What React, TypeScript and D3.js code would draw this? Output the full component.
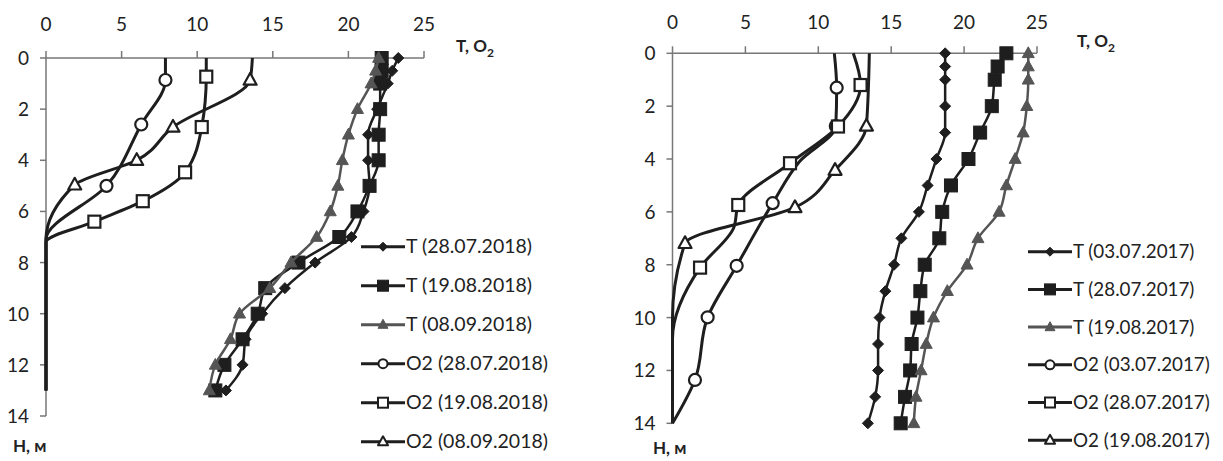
import React from 'react';
import * as d3 from 'd3';

const xTicks = [0, 5, 10, 15, 20, 25];
const yTicks = [0, 2, 4, 6, 8, 10, 12, 14];

// ---- 2018 (left chart) ----
const tDepths18 = [0, 0.5, 1, 2, 3, 4, 5, 6, 7, 8, 9, 10, 11, 12, 13];
const tA18 = [23.3, 22.9, 22.6, 21.9, 21.3, 21.3, 21.4, 21.0, 20.2, 17.8, 15.8, 14.3, 13.2, 13.0, 11.9];
const tB18 = [22.2, 22.2, 22.1, 22.1, 22.0, 22.0, 21.4, 20.6, 19.4, 16.7, 14.5, 14.0, 13.0, 11.8, 11.2];
const tC18 = [22.0, 21.8, 21.5, 20.6, 20.0, 19.6, 19.3, 18.8, 17.9, 16.2, 14.8, 12.8, 12.2, 11.2, 10.8];

const oAd18 = [0, 0.86, 2.6, 5.0, 7.1, 13];
const oAv18 = [7.9, 7.9, 6.3, 4.0, 0, 0];
const oAm18 = [1, 2, 3];
const oBd18 = [0, 0.73, 2.7, 4.47, 5.6, 6.4, 7.2, 13];
const oBv18 = [10.6, 10.6, 10.3, 9.2, 6.4, 3.2, 0, 0];
const oBm18 = [1, 2, 3, 4, 5];
const oCd18 = [0, 0.86, 2.7, 4.0, 4.96, 7.1, 13];
const oCv18 = [13.65, 13.5, 8.4, 6.0, 1.9, 0, 0];
const oCm18 = [1, 2, 3, 4];

const legend18 = ['T (28.07.2018)', 'T (19.08.2018)', 'T (08.09.2018)', 'O2 (28.07.2018)', 'O2 (19.08.2018)', 'O2 (08.09.2018)'];

// ---- 2017 (right chart) ----
const tDepths17 = [0, 0.5, 1, 2, 3, 4, 5, 6, 7, 8, 9, 10, 11, 12, 13, 14];
const tA17 = [18.7, 18.7, 18.7, 18.7, 18.7, 18.1, 17.5, 16.9, 15.7, 15.2, 14.6, 14.2, 14.1, 14.1, 13.9, 13.4];
const tB17 = [22.9, 22.3, 22.1, 21.9, 21.1, 20.3, 19.1, 18.5, 18.3, 17.3, 17.0, 16.8, 16.4, 16.3, 15.95, 15.65];
const tC17 = [24.4, 24.4, 24.4, 24.3, 24.05, 23.5, 22.9, 22.4, 20.95, 20.2, 18.85, 17.9, 17.4, 17.05, 16.7, 16.55];

const oAd17 = [0, 1.3, 2.75, 4.1, 5.67, 8.04, 9.99, 12.36, 14];
const oAv17 = [11.1, 11.26, 11.2, 8.7, 6.87, 4.4, 2.41, 1.54, 0];
const oAm17 = [1, 2, 4, 5, 6, 7];
const oBd17 = [0, 1.2, 2.77, 4.16, 5.74, 6.6, 8.11, 10.8, 14];
const oBv17 = [12.4, 12.9, 11.35, 8.06, 4.51, 4.2, 1.89, 0, 0];
const oBm17 = [1, 2, 3, 4, 6];
const oCd17 = [0, 2.75, 4.42, 5.83, 7.19, 10, 14];
const oCv17 = [13.5, 13.3, 11.15, 8.4, 0.86, 0, 0];
const oCm17 = [1, 2, 3, 4];

const legend17 = ['T (03.07.2017)', 'T (28.07.2017)', 'T (19.08.2017)', 'O2 (03.07.2017)', 'O2 (28.07.2017)', 'O2 (19.08.2017)'];

const FONT = 'Lato, "Open Sans", sans-serif';
const DARK = '#1e1e1e';
const GRAY = '#555555';

type Shape = 'diamond' | 'square' | 'triangle' | 'circle';

function Marker({ shape, x, y, s, fill, stroke, sw }: { shape: Shape; x: number; y: number; s: number; fill: string; stroke: string; sw: number }) {
  if (shape === 'circle') return <circle cx={x} cy={y} r={s / 2} fill={fill} stroke={stroke} strokeWidth={sw} />;
  if (shape === 'square') return <rect x={x - s / 2} y={y - s / 2} width={s} height={s} fill={fill} stroke={stroke} strokeWidth={sw} />;
  if (shape === 'diamond') {
    const h = s / 2;
    return <path d={`M${x},${y - h}L${x + h},${y}L${x},${y + h}L${x - h},${y}Z`} fill={fill} stroke={stroke} strokeWidth={sw} />;
  }
  const h = s * 0.9;
  return <path d={`M${x},${y - h * 0.6}L${x + s / 2},${y + h * 0.4}L${x - s / 2},${y + h * 0.4}Z`} fill={fill} stroke={stroke} strokeWidth={sw} strokeLinejoin="round" />;
}

type TSeries = { d: number[]; v: number[]; shape: Shape; color: string };
type OSeries = { d: number[]; v: number[]; m: number[]; shape: Shape };

function Chart({ x0, x1, y0, y1, tSeries, oSeries, legend, legX, legY, legStep, legFont, tLabelX, tLabelY, hLabelX, hLabelY, tickLabelY }: any) {
  const x = d3.scaleLinear().domain([0, 25]).range([x0, x1]);
  const y = d3.scaleLinear().domain([0, 14]).range([y0, y1]);
  const line = d3.line<[number, number]>().x((p) => x(p[0])).y((p) => y(p[1])).curve(d3.curveMonotoneY);
  const tS: TSeries[] = tSeries;
  const oS: OSeries[] = oSeries;
  const tSize: Record<string, number> = { diamond: 11, square: 13, triangle: 12 };
  const oSize: Record<string, number> = { circle: 12, square: 12, triangle: 13 };
  const legTSize: Record<string, number> = { diamond: 9, square: 11, triangle: 10 };
  const legOSize: Record<string, number> = { circle: 9, square: 10, triangle: 10 };
  return (
    <g>
      {/* axes */}
      <line x1={x0} x2={x1} y1={y0} y2={y0} stroke="#777" strokeWidth={1.5} />
      <line x1={x0} x2={x0} y1={y0} y2={y1} stroke="#777" strokeWidth={1.5} />
      {xTicks.map((t) => (
        <g key={'x' + t}>
          <line x1={x(t)} x2={x(t)} y1={y0} y2={y0 - 7} stroke="#777" strokeWidth={1.5} />
          <text x={x(t)} y={tickLabelY} textAnchor="middle" fontFamily={FONT} fontSize={19} fill="#222">{t}</text>
        </g>
      ))}
      {yTicks.map((t) => (
        <g key={'y' + t}>
          <line x1={x0 - 6} x2={x0} y1={y(t)} y2={y(t)} stroke="#777" strokeWidth={1.5} />
          <text x={x0 - 17} y={y(t) + 7} textAnchor="end" fontFamily={FONT} fontSize={19} fill="#222">{t}</text>
        </g>
      ))}
      <text x={tLabelX} y={tLabelY} fontFamily={FONT} fontSize={17} fontWeight="bold" fill="#222">
        T, O<tspan fontSize={12} dy={5}>2</tspan>
      </text>
      <text x={hLabelX} y={hLabelY} fontFamily={FONT} fontSize={17} fontWeight="bold" fill="#222">H, м</text>

      {/* O2 series */}
      {oS.map((s, i) => (
        <g key={'o' + i}>
          <path d={line(s.d.map((dd, k) => [s.v[k], dd] as [number, number])) || ''} fill="none" stroke={DARK} strokeWidth={3} />
          {s.m.map((k) => (
            <Marker key={k} shape={s.shape} x={x(s.v[k])} y={y(s.d[k])} s={oSize[s.shape]} fill="#fff" stroke={DARK} sw={2.2} />
          ))}
        </g>
      ))}
      {/* T series */}
      {tS.map((s, i) => (
        <g key={'t' + i}>
          <path d={line(s.d.map((dd, k) => [s.v[k], dd] as [number, number])) || ''} fill="none" stroke={s.color} strokeWidth={2.5} />
          {s.d.map((dd, k) => (
            <Marker key={k} shape={s.shape} x={x(s.v[k])} y={y(dd)} s={tSize[s.shape]} fill={s.color} stroke={s.color} sw={1} />
          ))}
        </g>
      ))}

      {/* legend */}
      {legend.map((name: string, i: number) => {
        const ly = legY + i * legStep;
        const isT = i < 3;
        const s = isT ? tS[i] : oS[i - 3];
        const color = isT ? (s as TSeries).color : DARK;
        return (
          <g key={'l' + i}>
            <line x1={legX} x2={legX + 44} y1={ly} y2={ly} stroke={color} strokeWidth={3} />
            <Marker shape={s.shape} x={legX + 22} y={ly} s={isT ? legTSize[s.shape] : legOSize[s.shape]} fill={isT ? color : '#fff'} stroke={color} sw={isT ? 1 : 2} />
            <text x={legX + 45} y={ly + 6.5} fontFamily={FONT} fontSize={legFont} fill="#222">{name}</text>
          </g>
        );
      })}
    </g>
  );
}

export default function App() {
  const left = {
    tSeries: [
      { d: tDepths18, v: tA18, shape: 'diamond', color: DARK },
      { d: tDepths18, v: tB18, shape: 'square', color: DARK },
      { d: tDepths18, v: tC18, shape: 'triangle', color: GRAY },
    ],
    oSeries: [
      { d: oAd18, v: oAv18, m: oAm18, shape: 'circle' },
      { d: oBd18, v: oBv18, m: oBm18, shape: 'square' },
      { d: oCd18, v: oCv18, m: oCm18, shape: 'triangle' },
    ],
  };
  const right = {
    tSeries: [
      { d: tDepths17, v: tA17, shape: 'diamond', color: DARK },
      { d: tDepths17, v: tB17, shape: 'square', color: DARK },
      { d: tDepths17, v: tC17, shape: 'triangle', color: GRAY },
    ],
    oSeries: [
      { d: oAd17, v: oAv17, m: oAm17, shape: 'circle' },
      { d: oBd17, v: oBv17, m: oBm17, shape: 'square' },
      { d: oCd17, v: oCv17, m: oCm17, shape: 'triangle' },
    ],
  };
  return (
    <div style={{ position: 'fixed', left: 0, top: 0 }}>
      <svg width={1223} height={461} style={{ display: 'block', background: '#fff' }}>
        <Chart x0={46} x1={424} y0={58} y1={416} {...left} legend={legend18} legX={361} legY={246.7} legStep={39} legFont={19.5} tLabelX={456} tLabelY={52} hLabelX={13} hLabelY={452} tickLabelY={31} />
        <Chart x0={672.5} x1={1037} y0={53.3} y1={423.3} {...right} legend={legend17} legX={1028} legY={251.7} legStep={37.7} legFont={18.8} tLabelX={1077} tLabelY={47} hLabelX={653} hLabelY={454} tickLabelY={29} />
      </svg>
    </div>
  );
}
